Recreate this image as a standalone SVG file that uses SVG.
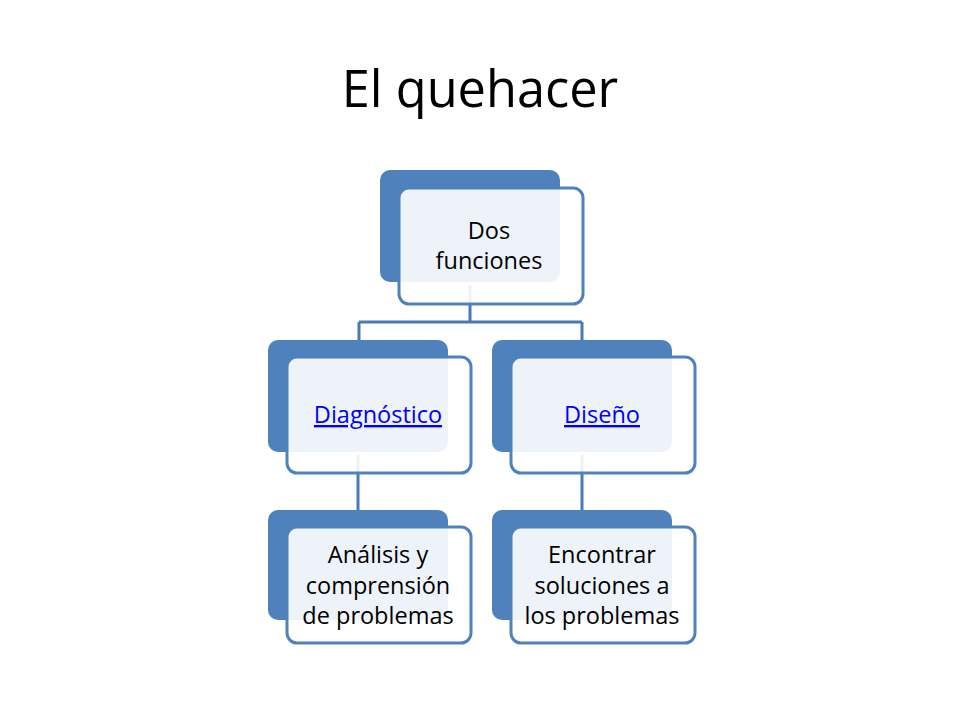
<svg xmlns="http://www.w3.org/2000/svg" width="960" height="720" viewBox="0 0 960 720">
<style>
.back{fill:#4F81BD}
.front{fill:#ffffff;fill-opacity:0.9;stroke:#4F81BD;stroke-width:3}
.con{fill:none;stroke:#4A7AB5;stroke-width:3}
.t{font-family:"Open Sans","Noto Sans",sans-serif;font-size:23.5px;fill:#000;text-anchor:middle}
.link{fill:#0000FF;text-decoration:underline}
</style>
<rect width="960" height="720" fill="#fff"/>
<text x="480" y="107" font-family="Open Sans, Noto Sans, sans-serif" font-size="50.5" text-anchor="middle" fill="#000">El quehacer</text>
<g id="connectors">
<path class="con" d="M470 285 V322 M359 322 H582 M359 322 V345 M582 322 V345"/>
<path class="con" d="M358 455 V515"/>
<path class="con" d="M582 455 V515"/>
</g>
<g id="n-dos">
<rect class="back" x="380" y="170" width="180" height="112" rx="10"/>
<rect class="front" x="399" y="188" width="184" height="116" rx="10"/>
<text class="t" x="489" y="239">Dos</text>
<text class="t" x="489" y="269">funciones</text>
</g>
<g id="n-diag">
<rect class="back" x="268" y="340" width="180" height="112" rx="10"/>
<rect class="front" x="287" y="357" width="184" height="116" rx="10"/>
<text class="t link" x="378" y="423">Diagnóstico</text>
</g>
<g id="n-dis">
<rect class="back" x="492" y="340" width="180" height="112" rx="10"/>
<rect class="front" x="511" y="357" width="184" height="116" rx="10"/>
<text class="t link" x="602" y="423">Diseño</text>
</g>
<g id="n-ana">
<rect class="back" x="268" y="510" width="180" height="110" rx="10"/>
<rect class="front" x="287" y="527" width="184" height="116" rx="10"/>
<text class="t" x="378" y="563">Análisis y</text>
<text class="t" x="378" y="594">comprensión</text>
<text class="t" x="378" y="624">de problemas</text>
</g>
<g id="n-enc">
<rect class="back" x="492" y="510" width="180" height="110" rx="10"/>
<rect class="front" x="511" y="527" width="184" height="116" rx="10"/>
<text class="t" x="602" y="563">Encontrar</text>
<text class="t" x="602" y="594">soluciones a</text>
<text class="t" x="602" y="624">los problemas</text>
</g>
</svg>
